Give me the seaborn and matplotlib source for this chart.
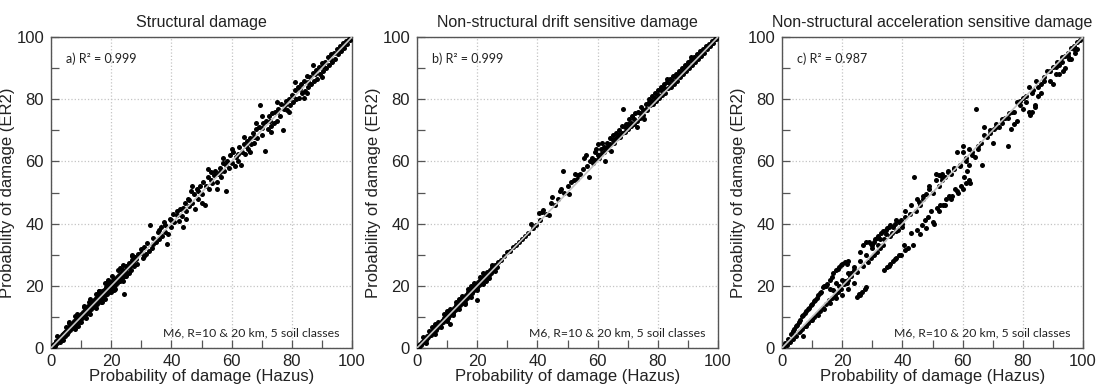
import matplotlib
matplotlib.use("Agg")
import matplotlib.pyplot as plt
import seaborn as sns
import pandas as pd
from matplotlib.ticker import MultipleLocator

titles = ["Structural damage",
          "Non-structural drift sensitive damage",
          "Non-structural acceleration sensitive damage"]
r2_labels = ["a) R\u00b2 = 0.999", "b) R\u00b2 = 0.999", "c) R\u00b2 = 0.987"]
note = "M6, R=10 & 20 km, 5 soil classes"
xlabel = "Probability of damage (Hazus)"
ylabel = "Probability of damage (ER2)"
ticks = [0, 20, 40, 60, 80, 100]
one_to_one = [0, 100]

# (Hazus, ER2) pairs
points_a = [
    (0.5,0.6),(1,1.3),(1.2,0.8),(1.8,2.1),(2,1.6),(2.5,2.9),(2.7,2.2),(3,3.4),(3.3,2.8),(3.6,4.1),
    (4,3.5),(4.2,4.8),(4.5,4.0),(5,5.6),(5.2,4.6),(5.5,6.2),(5.8,5.2),(6,6.8),(6.3,5.7),(6.6,7.3),
    (7,6.4),(7.2,8.0),(7.5,7.0),(7.8,8.6),(8,7.4),(8.3,9.2),(8.6,8.0),(9,9.9),(9.2,8.4),(9.5,10.4),
    (9.8,9.1),(10,11.0),(10.3,9.6),(10.6,11.6),(11,10.2),(11.2,12.2),(11.5,10.8),(11.8,12.9),(12,11.2),
    (12.4,13.6),(12.7,11.9),(13,14.2),(13.3,12.4),(13.6,14.8),(14,13.1),(14.3,15.5),(14.6,13.8),
    (15,16.2),(15.3,14.2),(15.6,16.8),(16,15.0),(16.3,17.4),(16.6,15.6),(17,18.2),(17.3,16.2),
    (17.6,18.7),(18,17.0),(18.3,19.5),(18.6,17.4),(19,20.3),(19.3,18.1),(19.6,20.8),(20,19.0),
    (20.4,21.6),(20.8,19.6),(21,22.3),(21.4,20.2),(21.8,22.8),(22,20.8),(22.5,23.6),(22.9,21.5),
    (23.2,24.2),(23.6,22.4),(24,25.2),(24.3,17.5),(24.6,23.3),(25,26.4),(25.4,24.2),(26,27.3),
    (26.5,25.0),(27,28.4),(27.5,26.3),(28,29.2),(28.5,27.1),
    (0.8,1.0),(1.5,1.9),(2.3,2.4),(3.1,3.0),(3.9,4.4),(4.7,5.1),(5.6,5.5),(6.4,6.9),(7.3,7.5),(8.1,8.3),
    (8.9,9.3),(9.7,9.6),(10.5,10.9),(11.3,11.4),(12.1,12.6),(12.9,13.2),(13.7,13.9),(14.5,15.0),
    (15.3,15.7),(16.1,16.4),(16.9,17.2),(17.7,18.1),(18.5,18.8),(19.3,19.6),(20.1,20.5),(20.9,21.2),
    (21.7,21.9),(22.5,22.8),(23.3,23.6),(24.1,24.3),(25.2,25.6),(26.3,26.5),(27.3,27.5),(28.2,28.6),
    (6.1,8.2),(8.8,10.9),(10.9,13.3),(13.1,15.7),(15.8,18.4),(18.1,20.9),(20.1,23.0),(22.3,25.0),
    (7.9,6.0),(11.7,9.8),(14.9,12.9),(17.9,15.8),(21.2,19.1),(23.9,21.6),(26.0,24.1),(19.0,21.8),
    (12.5,14.9),(4.9,6.6),(3.0,1.9),(16.7,14.8),
    (2,3.8),(4,2.5),(6,7.9),(9,7.2),(11,13.5),(13,11.0),(15,17.5),(17,14.9),(19,21.5),(21,18.8),
    (23,25.6),(25,23.0),(27,29.8),(24,26.7),(20,18.0),(16,18.3),(10,8.2),(8,10.2),
    (29,30.3),(30,31.8),(30.5,28.9),(31,32.5),(31.5,30.2),(32,33.8),(32.5,31.3),(33,39.5),(33.5,32.0),
    (34,35.5),(35,34.0),(35.5,37.2),(36,35.1),(36.5,38.8),(37,36.0),(37.5,40.5),(38,37.2),(38.5,33.5),
    (39,36.5),(39.5,41.5),(40,39.0),(40.5,43.0),(41,40.5),(42,42.8),(42.5,40.8),(43,44.8),(43.5,42.5),
    (44,38.8),(44.5,46.5),(45,44.0),(45.5,48.0),(46,45.5),(46.5,50.5),(47,46.5),(47.5,49.5),(48,44.8),
    (48.5,51.0),(49,48.0),(49.5,52.0),(50,49.5),(50.5,53.5),(51,46.0),(51.5,52.0),(52,55.0),(52.5,51.2),
    (53,56.5),(53.5,53.0),(54,55.5),(54.5,57.0),(55,53.5),(55.5,56.0),(56,58.0),(56.5,55.0),(57,59.5),
    (57.5,56.8),(58,50.5),(58.5,60.0),(59,58.0),(59.5,62.0),(60,59.5),(60.5,63.0),(61,58.5),(61.5,61.5),
    (62,60.0),(62.5,64.5),(63,59.0),(63.5,63.0),(64,65.5),(64.5,62.5),(65,66.5),(65.5,64.0),(66,67.5),
    (66.5,65.5),(67,69.0),(67.5,66.0),(68,70.5),(68.5,67.5),(69,71.0),(69.5,78.0),(70,68.5),(70.5,72.5),
    (71,63.5),(71.5,73.0),(72,70.5),(72.5,74.5),(73,71.5),(73.5,75.5),(74,72.5),(74.5,76.0),(75,73.0),
    (75.5,77.0),(76,74.5),(76.5,78.5),(77,70.0),(77.5,77.0),(78,79.5),(78.5,76.5),(79,80.0),(79.5,78.0),
    (80,81.5),(80.5,79.0),(81,83.0),(81.5,80.0),(82,84.0),(82.5,80.5),(83,85.0),(83.5,82.0),(84,86.0),
    (84.5,82.5),(85,87.5),(85.5,84.0),(86,87.0),(86.5,85.0),(87,88.5),(87.5,86.0),(88,89.5),(88.5,86.5),
    (89,90.5),(89.5,88.0),(90,91.5),(90.5,89.0),(91,92.0),(91.5,90.0),(92,93.5),(92.5,91.0),(93,94.5),
    (93.5,92.0),(94,95.0),(94.5,93.0),(95,96.0),(95.5,94.5),(96,97.0),(96.5,95.5),(97,98.0),(97.5,96.5),
    (98,98.8),(98.5,97.8),(99,99.5),(99.5,99.0),
    (62,62.3),(64.8,65.0),(67.3,67.9),(70.2,70.6),(72.8,73.1),(75.2,75.8),(77.8,78.2),(80.3,80.9),
    (82.8,83.3),(85.3,85.6),(87.8,88.2),(90.3,90.7),(92.8,93.0),(95.3,95.4),(97.8,97.9),(66,63),
    (73,69.5),(79,76),(85,82),(90,87),(84,80.5),(68,72.5),(75,79),(87,91),(81,85.5),(70,74.5),(64,68),
    (57,61),(52,57.5),(47,52),(60,64),(55,51),(45,41.5),(50,46.5),(36,38),(40,41),(42,44),(46,47.5),
    (49,50.5),(53,54),(56,56.5),(58,59),(38,39.5),(44,45),(34,33.5),(30,30.5),(31,29.5),(27,29.5),
]

points_b = [
    (0.5,0.4),(1,1.2),(1.3,0.9),(1.8,2.0),(2.2,1.8),(2.6,2.9),(3,2.7),(3.4,3.8),(3.8,3.4),(4.2,4.6),
    (4.6,4.2),(5,5.5),(5.4,5.0),(5.8,6.3),(6.2,5.8),(6.6,7.1),(7,6.6),(7.4,8.0),(7.8,7.4),(8.2,8.8),
    (8.6,8.2),(9,9.7),(9.4,9.0),(9.8,10.5),(10.2,9.8),(10.6,11.3),(11,10.6),(11,7.8),(11.4,12.1),
    (11.8,11.4),(12.2,13.0),(12.6,12.2),(13,13.8),(13.4,13.0),(13.8,14.6),(14.2,13.8),(14.6,15.5),
    (15,14.6),(15.4,16.3),(15.8,15.4),(16.2,17.1),(16.6,16.2),(17,18.0),(17.4,17.0),(17.8,18.8),
    (18.2,17.8),(18.6,19.6),(19,18.6),(19.4,20.4),(19.8,19.4),(20,15.5),(20.2,21.2),(20.6,20.2),
    (21,22.0),(21.4,21.0),(21.8,22.8),(22.2,21.8),(22.6,23.6),(23,22.6),(23.4,24.4),(23.8,23.4),
    (24.2,25.2),(24.6,24.2),(25,26.0),(25.5,25.0),(26,26.8),(26.5,26.0),(27,27.6),
    (0.8,0.9),(1.6,1.5),(2.4,2.5),(3.2,3.1),(4.0,4.2),(4.8,4.7),(5.6,5.8),(6.4,6.3),(7.2,7.4),(8.0,7.9),
    (8.8,9.0),(9.6,9.5),(10.4,10.7),(11.2,11.0),(12.0,12.3),(12.8,12.6),(13.6,13.9),(14.4,14.2),
    (15.2,15.5),(16.0,15.8),(16.8,17.1),(17.6,17.4),(18.4,18.7),(19.2,19.0),(20.0,20.4),(20.8,20.6),
    (21.6,21.9),(22.4,22.2),(23.2,23.5),(24.0,23.8),(24.8,25.1),(25.6,25.4),(26.4,26.6),(10,11.8),
    (14,15.9),(18,20.0),(22,24.0),(8,6.8),(12,10.6),(16,14.5),(20,18.6),(24,22.6),(6,7.6),(4,5.4),
    (2,3.5),(3,1.5),(5,6.8),(6,4.6),(9,10.8),(10,8.6),(13,14.7),(14,12.4),(17,18.9),(18,16.4),
    (21,22.9),(22,20.5),(25,26.8),(26,24.6),(15,16.6),(16,14.2),(19,20.9),(23,21.5),(7,8.5),(11,12.6),
    (28,28.4),(29,29.6),(30,30.8),(31,31.2),(32,32.5),(33,33.0),(34,34.2),(35,35.0),(36,36.0),(37,37.0),
    (38,39.8),(38.5,38.6),(39.5,39.5),(40.5,43.5),(41,41.0),(41.5,43.8),(42,44.5),(43,43.0),(44,42.8),
    (44.5,46.5),(45,48.5),(46,46.0),(47,48.0),(47.5,50.5),(48,51.0),(48.5,57.0),(49,50.0),(50,52.0),
    (50.5,49.5),(51,53.5),(52,54.0),(52.5,56.0),(53,54.5),(53.5,55.5),(54,56.0),(55,57.5),(55.5,61.0),
    (56,62.0),(56.5,58.5),(57,55.0),(57.5,60.0),(58,61.0),(58.5,59.5),(59,63.0),(59.5,64.0),(60,65.5),
    (60.5,61.0),(61,64.0),(61.5,66.0),(62,63.0),(62.5,60.0),(63,66.0),(63.5,65.0),(64,67.5),(64.5,63.5),
    (65,68.5),(65.5,66.0),(66,69.0),(66.5,67.5),(67,70.0),(67.5,68.0),(68,71.5),(68.5,77.0),(69,69.5),
    (69.5,72.0),(70,70.5),(70.5,73.5),(71,71.5),(71.5,74.5),(72,72.0),(72.5,75.5),(73,71.0),(73.5,76.0),
    (74,74.0),(74.5,77.5),(75,75.0),(75.5,73.5),(76,78.5),(76.5,76.5),(77,80.0),(77.5,78.0),(78,81.0),
    (78.5,78.5),(79,82.0),(79.5,79.5),(80,83.0),(80.5,80.5),(81,84.0),(81.5,81.5),(82,85.0),(82.5,82.0),
    (83,85.5),(83.5,83.5),(84,86.5),(84.5,84.0),(85,87.5),(85.5,85.0),(86,88.0),(86.5,86.0),(87,89.0),
    (87.5,87.0),(88,90.0),(88.5,88.0),(89,91.0),(89.5,89.0),(90,92.0),(90.5,90.0),(91,92.5),(91.5,91.0),
    (92,93.5),(92.5,92.0),(93,94.5),(93.5,93.0),(94,95.5),(94.5,94.0),(95,96.0),(95.5,95.0),(96,97.0),
    (96.5,96.0),(97,97.8),(97.5,97.0),(98,98.6),(98.5,98.2),(99,99.3),(99.5,99.2),
    (60,62),(62,64.5),(64,65.5),(66,67.5),(68,69),(70,72),(72,73.5),(74,75.5),(76,77),(78,79.5),
    (80,81.5),(82,83.5),(84,85),(86,87),(88,89),(90,91),(92,92.8),(94,94.6),(96,96.4),(98,98.2),
    (81,83),(83,86.5),(85,86),(87,88),(89,90),(91,93.5),(79,80.5),(77,79),(75,76.5),(73,73),(71,72.5),
    (69,71),(67,68.5),(65,67),(63,64),(61,62.5),(59,60.5),
]

points_c = [
    (0.5,0.5),(1,1.5),(1.5,1.0),(2,3.0),(2.5,2.0),(3,4.5),(3.5,3.0),(4,6.0),(4.5,4.0),(5,7.5),
    (5.5,5.0),(6,9.0),(6.5,6.0),(7,10.5),(7,4.0),(7.5,7.0),(8,12.0),(8.5,8.0),(9,13.0),(9.5,9.0),
    (10,14.0),(10.5,10.0),(11,15.5),(11.5,11.0),(12,17.0),(12.5,12.0),(13,18.0),(13.5,13.0),(14,20.0),
    (14.5,14.0),(15,20.5),(15.5,15.5),(16,22.0),(16.5,16.0),(17,24.0),(17.5,17.0),(18,25.0),(18.5,18.0),
    (19,26.0),(19.5,19.0),(20,27.0),(20.5,20.5),(21,27.5),(21.5,21.0),(22,22.0),(22.5,23.0),(23,24.0),
    (24,25.0),(25,16.5),(25.5,17.5),(26,17.0),(26.5,18.0),(27,26.5),(27.5,19.0),(28,19.5),(28.5,27.5),
    (29,34.0),(29.5,29.0),(30,33.0),(30.5,30.0),(31,35.0),(31.5,31.0),(32,36.0),(32.5,32.0),(33,37.0),
    (33.5,33.0),(34,25.0),(34.5,38.0),(35,26.0),(35.5,39.0),(36,27.0),(36.5,37.0),(37,28.0),(37.5,40.0),
    (38,29.0),(38.5,38.0),(39,30.0),(39.5,41.0),(40,39.0),(40.5,33.0),(41,42.0),(42,32.0),(42.5,43.0),
    (43,37.0),(44,55.0),(44.5,44.0),(45,38.0),(45.5,47.0),(46,46.0),(46.5,39.5),(47,48.0),(47.5,41.0),
    (48,49.5),(48.5,42.0),(49,51.0),(49.5,44.0),(50,50.0),(50.5,40.0),(51,56.0),(51.5,45.0),(52,52.0),
    (52.5,46.0),(53,54.0),(53.5,46.0),(54,55.0),(54.5,48.0),(55,57.0),(55.5,49.0),(56,56.0),(56.5,49.0),
    (57,58.0),(57.5,51.0),(58,63.0),(58.5,50.0),(59,58.5),(59.5,52.0),(60,65.0),(60.5,55.0),(61,60.0),
    (61.5,57.0),(62,59.0),(62.5,53.0),(63,62.0),(64,61.5),(64.5,77.0),(65,64.0),(66,66.0),(66.5,59.0),
    (67,71.0),(68,68.0),(69,69.0),(70,66.0),(70.5,70.5),(71,72.0),(72,71.0),(73,73.5),(74,74.0),
    (75,65.0),(75.5,75.5),(76,70.5),(76.5,76.0),(77,72.0),(78,79.0),(79,78.0),(80,80.5),(81,79.0),
    (82,84.0),(82.5,75.0),(83,76.0),(83.5,83.0),(84,78.0),(84.5,86.0),(85,81.0),(86,85.0),(87,87.0),
    (88,89.0),(89,86.0),(90,90.5),(91,88.0),(91.5,92.0),(92,91.0),(93,93.5),(93.5,89.0),(94,94.0),
    (95,95.0),(95.5,93.0),(96,96.5),(97,97.0),(97.5,95.0),(98,98.5),(99,99.0),
    (6.5,10.2),(8.5,12.5),(10.5,15.0),(12.5,17.8),(14.5,19.8),(16.5,22.8),(18.5,25.5),(19.5,26.8),
    (21.5,27.0),(13.5,19.5),(11.5,16.2),(9.5,13.8),(7.5,11.2),(5.5,8.5),(4.5,7.0),(3.5,5.5),(22,28),
    (26,31),(27,33),(28,34),(29.5,33.5),(30.5,34),(31.5,35.5),(32.5,35),(33.5,37.5),(34.5,36.5),
    (35,38.5),(36,39.5),(37,39),(38,41),(39,40.5),(40,40),
    (16,19),(18,21),(20,22),(22,24),(24,26),(26,28),(28,30),(30,32),(32,33),(34,35),(36,36),(38,37.5),
    (17,18.5),(19,20),(21,21.5),(23,23),(25,24.5),(20,17),(22,19),(24,21),(18,16),(16,14.5),(14,12.5),
    (12,10.5),(10,9),(8,7),(6,5.5),
    (35.5,26.5),(37.5,28.5),(39.5,30.0),(41,31.5),(43.5,33),(46,36.5),(48,38.5),(50,40.5),(52,44),
    (54,46),(56,48),(58,50.5),(60,51),(61,53),(62,54),
    (41,44),(43,46),(45,48),(47,49),(49,52),(51,54),(53,55),(55,56.5),(57,57.5),(59,59),(61,61),
    (63,63),(65,65),(60,63),(62,64),(52,55.5),(53,56),
    (67,68.5),(69,70),(71,71),(73,72.5),(75,74),(77,76),(79,79.5),(81,81),(83,82),(85,84),(87,86),
    (89,89),(91,90.5),(93,92),(95,94),(97,96),(80,77),(84,77.5),(86,82),(78,73),(82,76),(90,85),
    (92,88),(94,90),(96,93),(98,96),
]

sns.set_theme(style="white")
plt.rcParams['font.family'] = ['Liberation Sans', 'DejaVu Sans']

fig = plt.figure(figsize=(11.03, 3.90), dpi=100)
lefts = [51 / 1103, 417 / 1103, 782 / 1103]
w = 301 / 1103
b = 1 - 348 / 390
h = 311 / 390

for i, pts in enumerate([points_a, points_b, points_c]):
    ax = fig.add_axes([lefts[i], b, w, h])
    df = pd.DataFrame(pts, columns=["hazus", "er2"])
    sns.scatterplot(data=df, x="hazus", y="er2", ax=ax, s=13, color="black",
                    linewidth=0, zorder=3)
    sns.lineplot(x=one_to_one, y=one_to_one, ax=ax, color="#c4c4c4", lw=1.2, zorder=4)
    ax.set_xlim(0, 100)
    ax.set_ylim(0, 100)
    ax.set_xticks(ticks)
    ax.set_yticks(ticks)
    ax.xaxis.set_minor_locator(MultipleLocator(10))
    ax.yaxis.set_minor_locator(MultipleLocator(10))
    ax.tick_params(which="both", direction="in", length=6, width=0.9, color="#555555",
                   labelsize=12, labelcolor="#222222", bottom=True, left=True)
    ax.tick_params(axis="x", which="both", pad=4)
    ax.tick_params(axis="y", which="both", pad=5)
    ax.grid(True, which="major", color="#c4c4c4", linestyle=":", linewidth=0.9, zorder=0)
    for s in ax.spines.values():
        s.set_color("#555555")
        s.set_linewidth(1.0)
    ax.set_xlabel(xlabel, fontsize=12, color="#222222", labelpad=0)
    ax.set_ylabel(ylabel, fontsize=12, color="#222222", labelpad=1)
    ax.set_title(titles[i], fontsize=11.5, color="#222222", pad=7)
    ax.text(5, 93, r2_labels[i], fontsize=9, family=["Lato", "DejaVu Sans"],
            color="#222222", va="center", ha="left")
    ax.text(96, 5, note, fontsize=8.8, family=["Lato", "DejaVu Sans"],
            color="#222222", va="center", ha="right")

fig.savefig("out.png", dpi=100, facecolor="white")
